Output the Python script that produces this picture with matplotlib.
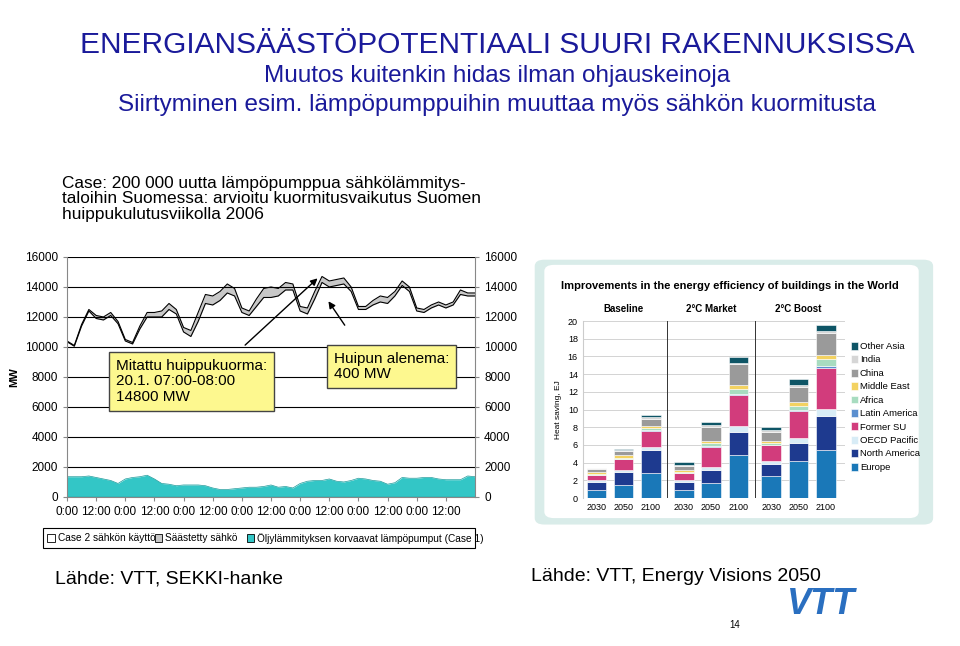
import numpy as np
import matplotlib.pyplot as plt
from matplotlib.patches import FancyBboxPatch, Rectangle

# left chart: peak week 2006, 3-hour steps (MW)
hours = np.arange(0, 169, 3)
total_load = [10400, 10100, 11500, 12500, 12100, 12000, 12300, 11700,
              10500, 10300, 11400, 12300, 12300, 12400, 12900, 12500,
              11300, 11100, 12300, 13500, 13400, 13700, 14200, 13900,
              12600, 12400, 13200, 13900, 14000, 13900, 14300, 14200,
              12700, 12600, 13700, 14700, 14400, 14500, 14600, 14000,
              12700, 12700, 13100, 13400, 13300, 13700, 14400, 14000,
              12600, 12500, 12800, 13000, 12800, 13000, 13800, 13600, 13600]
saved = [50, 50, 100, 100, 200, 200, 200, 150,
         100, 100, 200, 300, 300, 400, 400, 300,
         300, 400, 600, 600, 600, 600, 600, 500,
         300, 300, 500, 600, 700, 500, 500, 400,
         300, 400, 500, 400, 400, 400, 400, 300,
         200, 200, 300, 400, 400, 300, 300, 300,
         200, 200, 200, 200, 200, 200, 300, 200, 200]
heat_pumps = [1350, 1350, 1350, 1400, 1300, 1200, 1100, 900,
              1200, 1300, 1350, 1450, 1200, 900, 850, 750,
              800, 800, 800, 750, 600, 500, 500, 550,
              600, 650, 650, 700, 800, 650, 700, 600,
              900, 1050, 1100, 1100, 1200, 1050, 1000, 1100,
              1250, 1200, 1100, 1050, 850, 950, 1300, 1250,
              1250, 1300, 1300, 1200, 1150, 1150, 1150, 1400, 1350]
x_labels = ['0:00', '12:00'] * 7

# right chart: heat saving EJ
scenarios = ['Baseline', '2°C Market', '2°C Boost']
years = ['2030', '2050', '2100']
regions = ['Europe', 'North America', 'OECD Pacific', 'Former SU', 'Latin America',
           'Africa', 'Middle East', 'China', 'India', 'Other Asia']
region_colors = ['#1a78b8', '#1e3a8f', '#d8ecf6', '#d23c7c', '#5b8fcf',
                 '#a8dcc0', '#f3d261', '#9a9a9a', '#d6d6d6', '#0e5566']
savings = [
    [0.9, 0.9, 0.2, 0.6, 0.05, 0.1, 0.15, 0.4, 0.05, 0.05],
    [1.5, 1.5, 0.2, 1.2, 0.05, 0.1, 0.3, 0.5, 0.1, 0.1],
    [2.8, 2.6, 0.4, 1.8, 0.05, 0.3, 0.2, 0.8, 0.2, 0.2],
    [0.9, 0.9, 0.2, 0.8, 0.05, 0.1, 0.2, 0.5, 0.1, 0.3],
    [1.7, 1.5, 0.3, 2.3, 0.1, 0.3, 0.3, 1.5, 0.2, 0.4],
    [4.9, 2.6, 0.6, 3.5, 0.2, 0.5, 0.5, 2.3, 0.2, 0.6],
    [2.5, 1.3, 0.4, 1.8, 0.05, 0.2, 0.2, 1.0, 0.2, 0.35],
    [4.2, 2.0, 0.6, 3.0, 0.1, 0.5, 0.4, 1.8, 0.2, 0.6],
    [5.4, 3.9, 0.8, 4.6, 0.2, 0.8, 0.5, 2.4, 0.3, 0.7],
]

navy = '#1a1a9a'
plt.rcParams['font.family'] = 'Liberation Sans'
fig = plt.figure(figsize=(9.6, 6.46), dpi=100)

# header
fig.text(0.518, 0.93, 'ENERGIANSÄÄSTÖPOTENTIAALI SUURI RAKENNUKSISSA',
         ha='center', va='center', fontsize=21.5, color=navy)
fig.text(0.518, 0.883, 'Muutos kuitenkin hidas ilman ohjauskeinoja', ha='center', va='center',
         fontsize=17.5, color=navy)
fig.text(0.518, 0.837, 'Siirtyminen esim. lämpöpumppuihin muuttaa myös sähkön kuormitusta',
         ha='center', va='center', fontsize=17.5, color=navy)

# left chart
ax = fig.add_axes([0.0698, 0.2307, 0.425, 0.3715])
lower = np.array(total_load) - np.array(saved)
ax.fill_between(hours, lower, total_load, color='#c8c8c8', lw=0)
ax.plot(hours, total_load, color='black', lw=0.8)
ax.plot(hours, lower, color='black', lw=0.8)
ax.fill_between(hours, 0, heat_pumps, color='#33c6c6', lw=0)
ax.plot(hours, heat_pumps, color='#1a9a9a', lw=0.5)
ax.set_xlim(0, 168)
ax.set_ylim(0, 16000)
ax.set_yticks(range(0, 16001, 2000))
ax.set_xticks(range(0, 168, 12))
ax.set_xticklabels(x_labels)
ax.grid(axis='y', color='black', lw=0.8)
for s in ['top', 'right']:
    ax.spines[s].set_visible(False)
ax.spines['left'].set_color('#888888')
ax.spines['bottom'].set_color('#888888')
ax.tick_params(labelsize=8.5, length=3, color='#888888')
ax.set_ylabel('MW', fontsize=8, fontweight='bold')
ax2 = ax.twinx()
ax2.set_ylim(0, 16000)
ax2.set_yticks(range(0, 16001, 2000))
ax2.tick_params(labelsize=8.5, length=3, color='#888888')
for s in ['top', 'left', 'bottom']:
    ax2.spines[s].set_visible(False)
ax2.spines['right'].set_color('#888888')

ax.annotate('', xy=(104, 14700), xytext=(72.5, 10000),
            arrowprops=dict(arrowstyle='-|>', color='black', lw=1))
ax.annotate('', xy=(107, 13200), xytext=(115, 11300),
            arrowprops=dict(arrowstyle='-|>', color='black', lw=1))
ax.text(20, 7700, 'Mitattu huippukuorma:\n20.1. 07:00-08:00\n14800 MW', fontsize=11,
        va='center', linespacing=1.15,
        bbox=dict(boxstyle='square,pad=0.45', fc='#fdf88f', ec='#444444'))
ax.text(110, 8700, 'Huipun alenema:\n400 MW', fontsize=11, va='center',
        linespacing=1.15, bbox=dict(boxstyle='square,pad=0.45', fc='#fdf88f', ec='#444444'))

fig.text(0.065, 0.728, 'Case: 200 000 uutta lämpöpumppua sähkölämmitys-\ntaloihin Suomessa: arvioitu kuormitusvaikutus Suomen\nhuippukulutusviikolla 2006',
         fontsize=12.4, va='top', linespacing=1.05)

# left legend
leg_items = [('Case 2 sähkön käyttö', 'white'), ('Säästetty sähkö', '#c8c8c8'),
             ('Öljylämmityksen korvaavat lämpöpumput (Case 1)', '#33c6c6')]
fig.patches.append(Rectangle((0.045, 0.152), 0.45, 0.03, transform=fig.transFigure,
                             fc='white', ec='black', lw=0.8))
xpos = [0.049, 0.161, 0.257]
for (lab, col), xp in zip(leg_items, xpos):
    fig.patches.append(Rectangle((xp, 0.161), 0.008, 0.012, transform=fig.transFigure,
                                 fc=col, ec='black', lw=0.6))
    fig.text(xp + 0.011, 0.167, lab, fontsize=7.3, va='center')

fig.text(0.057, 0.103, 'Lähde: VTT, SEKKI-hanke', fontsize=14, va='center')
fig.text(0.553, 0.108, 'Lähde: VTT, Energy Visions 2050', fontsize=14, va='center')
fig.text(0.765, 0.033, '14', fontsize=7, ha='center', va='center')
fig.text(0.855, 0.065, 'VTT', fontsize=26, fontweight='bold', style='italic',
         color='#2a6fc0', ha='center', va='center')

# right panel background
bg1 = FancyBboxPatch((0.557, 0.188), 0.415, 0.41, transform=fig.transFigure,
                     boxstyle='round,pad=0,rounding_size=0.01', fc='#d9ece9', ec='none', zorder=-5)
bg2 = FancyBboxPatch((0.567, 0.198), 0.39, 0.392, transform=fig.transFigure,
                     boxstyle='round,pad=0,rounding_size=0.01', fc='white', ec='none', zorder=-4)
fig.patches.extend([bg1, bg2])
fig.text(0.76, 0.557, 'Improvements in the energy efficiency of buildings in the World',
         ha='center', va='center', fontsize=8, fontweight='bold')

axr = fig.add_axes([0.607, 0.229, 0.273, 0.274])
axr.patch.set_alpha(0)
xs = [0.5, 1.5, 2.5, 3.7, 4.7, 5.7, 6.9, 7.9, 8.9]
bottom = np.zeros(len(xs))
vals = np.array(savings)
for j, (reg, col) in enumerate(zip(regions, region_colors)):
    axr.bar(xs, vals[:, j], 0.72, bottom=bottom, color=col, label=reg,
            edgecolor='white', linewidth=0.4)
    bottom += vals[:, j]
axr.set_xlim(0, 9.6)
axr.set_ylim(0, 20)
axr.set_yticks(range(0, 21, 2))
axr.set_xticks(xs)
axr.set_xticklabels(years * 3)
axr.grid(axis='y', color='#cccccc', lw=0.6)
axr.set_axisbelow(True)
for s in ['top', 'right', 'bottom']:
    axr.spines[s].set_visible(False)
axr.spines['left'].set_color('#cccccc')
axr.tick_params(labelsize=6.5, length=0)
axr.set_ylabel('Heat saving, EJ', fontsize=6)
for xv in [3.1, 6.3]:
    axr.axvline(xv, color='#333333', lw=0.7)
for sc, xc in zip(scenarios, [1.5, 4.7, 7.9]):
    axr.text(xc, 20.8, sc, ha='center', va='bottom', fontsize=7, fontweight='bold')
h, l = axr.get_legend_handles_labels()
axr.legend(h[::-1], l[::-1], loc='upper left', bbox_to_anchor=(1.0, 0.92), frameon=False,
           fontsize=6.8, handlelength=0.7, handleheight=0.9, handletextpad=0.2,
           labelspacing=0.45, borderaxespad=0.3)

fig.savefig('out.png', dpi=100)
